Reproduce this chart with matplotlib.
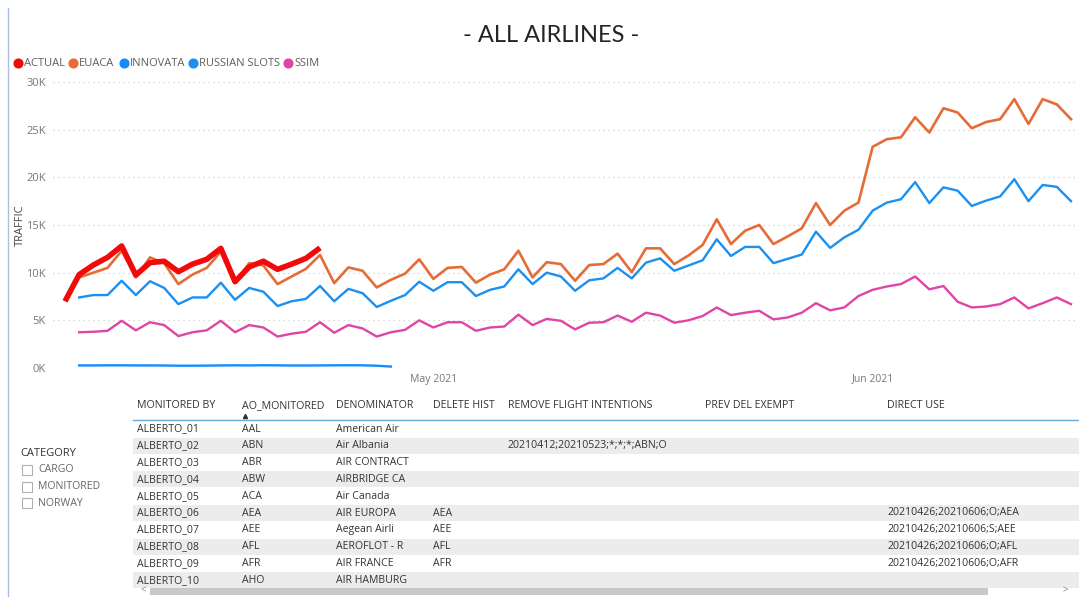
import matplotlib
matplotlib.use('Agg')
import matplotlib.pyplot as plt
import matplotlib.dates as mdates
from matplotlib.lines import Line2D
from matplotlib.patches import Rectangle
import pandas as pd

plt.rcParams['font.family'] = ['Open Sans', 'DejaVu Sans']

# ---- data (values in thousands) ----
dates = pd.date_range('2021-04-05', '2021-06-15', freq='D')

actual = [7.0, 9.8, 10.8, 11.6, 12.8, 9.75, 11.05, 11.2, 10.1, 10.9, 11.4, 12.55,
          9.05, 10.6, 11.2, 10.35, 10.9, 11.5, 12.6]

euaca = [9.5, 10.0, 10.5, 12.3, 9.5, 11.6, 11.0, 8.8, 9.8, 10.5, 12.2, 9.0,
         11.0, 10.75, 8.8, 9.6, 10.4, 11.85, 8.9, 10.55, 10.2, 8.45, 9.25, 9.9,
         11.4, 9.35, 10.5, 10.6, 8.95, 9.8, 10.35, 12.3, 9.5, 11.1, 10.9, 9.15,
         10.8, 10.9, 12.0, 10.05, 12.55, 12.55, 10.9, 11.8, 12.9, 15.6, 13.0, 14.4,
         15.0, 13.0, 13.8, 14.65, 17.3, 15.0, 16.5, 17.35, 23.2, 24.0, 24.2, 26.3,
         24.7, 27.25, 26.8, 25.15, 25.8, 26.1, 28.2, 25.6, 28.2, 27.65, 26.1]

innovata = [0.27, 0.27, 0.28, 0.28, 0.27, 0.27, 0.26, 0.24, 0.24, 0.25, 0.27, 0.28,
            0.27, 0.29, 0.28, 0.26, 0.26, 0.27, 0.28, 0.29, 0.28, 0.24, 0.15]

russian_slots = [7.4, 7.65, 7.65, 9.15, 7.65, 9.1, 8.4, 6.7, 7.4, 7.4, 8.95, 7.15,
                 8.4, 8.0, 6.5, 7.0, 7.25, 8.6, 7.0, 8.3, 7.85, 6.4, 7.05, 7.65,
                 9.05, 8.1, 9.0, 9.0, 7.55, 8.2, 8.55, 10.35, 8.8, 10.0, 9.6, 8.1,
                 9.2, 9.4, 10.5, 9.4, 11.05, 11.5, 10.2, 10.75, 11.3, 13.5, 11.75, 12.7,
                 12.7, 11.0, 11.45, 11.9, 14.3, 12.6, 13.7, 14.5, 16.5, 17.35, 17.7, 19.5,
                 17.3, 18.95, 18.6, 17.0, 17.55, 18.0, 19.8, 17.5, 19.2, 19.0, 17.5]

ssim = [3.75, 3.8, 3.9, 4.95, 3.95, 4.8, 4.5, 3.35, 3.75, 3.95, 4.95, 3.75,
        4.5, 4.25, 3.3, 3.6, 3.8, 4.8, 3.7, 4.5, 4.15, 3.3, 3.75, 4.0,
        5.0, 4.25, 4.8, 4.8, 3.9, 4.25, 4.35, 5.6, 4.5, 5.15, 4.95, 4.05,
        4.75, 4.8, 5.5, 4.85, 5.8, 5.5, 4.75, 5.0, 5.45, 6.35, 5.55, 5.8,
        6.0, 5.1, 5.3, 5.8, 6.8, 6.05, 6.35, 7.55, 8.2, 8.55, 8.8, 9.6,
        8.25, 8.6, 6.95, 6.35, 6.45, 6.7, 7.4, 6.25, 6.8, 7.4, 6.7]

series_names = ['ACTUAL', 'EUACA', 'INNOVATA', 'RUSSIAN SLOTS', 'SSIM']
series_colors = ['#f20a0a', '#e66c37', '#118dff', '#1a90f0', '#e044a7']

# table content
columns = ['MONITORED BY', 'AO_MONITORED', 'DENOMINATOR', 'DELETE HIST',
           'REMOVE FLIGHT INTENTIONS', 'PREV DEL EXEMPT', 'DIRECT USE']
monitored_by = ['ALBERTO_%02d' % i for i in range(1, 11)]
ao_monitored = ['AAL', 'ABN', 'ABR', 'ABW', 'ACA', 'AEA', 'AEE', 'AFL', 'AFR', 'AHO']
denominator = ['American Air', 'Air Albania', 'AIR CONTRACT', 'AIRBRIDGE CA', 'Air Canada',
               'AIR EUROPA', 'Aegean Airli', 'AEROFLOT - R', 'AIR FRANCE', 'AIR HAMBURG']
delete_hist = ['', '', '', '', '', 'AEA', 'AEE', 'AFL', 'AFR', '']
remove_flight = ['', '20210412;20210523;*;*;*;ABN;O', '', '', '', '', '', '', '', '']
prev_del = [''] * 10
direct_use = ['', '', '', '', '', '20210426;20210606;O;AEA', '20210426;20210606;S;AEE',
              '20210426;20210606;O;AFL', '20210426;20210606;O;AFR', '']
categories = ['CARGO', 'MONITORED', 'NORWAY']

# ---- figure ----
W, H = 1079, 597
fig = plt.figure(figsize=(W / 100, H / 100), dpi=100)
fig.patch.set_facecolor('white')


def fx(x):
    return x / W


def fy(y):
    return 1 - y / H


# page border on the left
fig.add_artist(Line2D([fx(8), fx(8)], [fy(8), fy(597)], color='#a9c1e0', lw=1))

fig.text(fx(551), fy(35), '- ALL AIRLINES -', ha='center', va='center',
         fontsize=17, color='#252423', family=['Lato', 'DejaVu Sans'])

# chart
ax = fig.add_axes([fx(53), fy(368), (1077 - 53) / W, (368 - 82) / H])
px_day = 14.17
d0 = mdates.date2num(dates[0])
d1 = mdates.date2num(dates[-1])
ax.set_xlim(d0 - 12 / px_day, d1 + 6 / px_day)
ax.set_ylim(0, 30000)

k = 1000
ax.plot(dates[1:], [v * k for v in euaca], color=series_colors[1], lw=1.9, clip_on=False, zorder=3)
ax.plot(dates[1:24], [v * k for v in innovata], color=series_colors[2], lw=1.7, clip_on=False, zorder=3)
ax.plot(dates[1:], [v * k for v in russian_slots], color=series_colors[3], lw=1.7, clip_on=False, zorder=3)
ax.plot(dates[1:], [v * k for v in ssim], color=series_colors[4], lw=1.7, clip_on=False, zorder=3)
ax.plot(dates[:len(actual)], [v * k for v in actual], color=series_colors[0], lw=4.0,
        clip_on=False, zorder=4, solid_capstyle='butt')

ax.set_yticks(range(0, 30001, 5000))
ax.set_yticklabels(['%dK' % (v // 1000) for v in range(0, 30001, 5000)])
ax.set_xticks([mdates.date2num(pd.Timestamp('2021-05-01')), mdates.date2num(pd.Timestamp('2021-06-01'))])
ax.set_xticklabels(['May 2021', 'Jun 2021'])
ax.tick_params(length=0, colors='#777777', labelsize=7.5)
ax.tick_params(axis='y', pad=5, labelsize=8)
ax.tick_params(axis='x', pad=4)
ax.grid(axis='y', linestyle=(0, (1, 3)), color='#cfcfcf', lw=0.9)
ax.set_axisbelow(True)
for s in ax.spines.values():
    s.set_visible(False)

fig.text(fx(20), fy(225), 'TRAFFIC', rotation=90, ha='center', va='center',
         fontsize=8, color='#444444')

# legend
leg_x = [18, 73, 124, 193, 288]
for name, col, x in zip(series_names, series_colors, leg_x):
    fig.add_artist(Line2D([fx(x)], [fy(63)], marker='o', markersize=6.3, color=col, lw=0))
    fig.text(fx(x + 6), fy(63), name, ha='left', va='center', fontsize=8, color='#605e5c')

# table
col_x = [137, 242, 336, 433, 508, 705, 887]
for c, x in zip(columns, col_x):
    fig.text(fx(x), fy(406), c, ha='left', va='center', fontsize=7.7, color='#333333')
fig.add_artist(Line2D([fx(245)], [fy(416)], marker='^', markersize=3, color='#333333', lw=0))
fig.add_artist(Line2D([fx(133), fx(1079)], [fy(420), fy(420)], color='#6aaad8', lw=1))

row_h = 16.8
table_cols = [monitored_by, ao_monitored, denominator, delete_hist, remove_flight, prev_del, direct_use]
for i in range(10):
    yc = 429 + row_h * i
    if i % 2 == 1:
        fig.add_artist(Rectangle((fx(133), fy(yc + 8)), (1079 - 133) / W, 16 / H,
                                 transform=fig.transFigure, color='#ececec', lw=0, zorder=0))
    for col, x in zip(table_cols, col_x):
        if col[i]:
            fig.text(fx(x), fy(yc), col[i], ha='left', va='center', fontsize=7.6, color='#333333')

# scrollbar
fig.add_artist(Rectangle((fx(150), fy(595)), (988 - 150) / W, 7 / H,
                         transform=fig.transFigure, color='#c8c8c8', lw=0))
fig.text(fx(143), fy(591), '<', ha='center', va='center', fontsize=7, color='#888888')
fig.text(fx(1065), fy(591), '>', ha='center', va='center', fontsize=7, color='#888888')

# slicer
fig.text(fx(20), fy(453), 'CATEGORY', ha='left', va='center', fontsize=8, color='#333333')
for j, cat in enumerate(categories):
    yc = 470 + 16.5 * j
    fig.add_artist(Rectangle((fx(22), fy(yc + 5)), 10 / W, 10 / H, transform=fig.transFigure,
                             fill=False, edgecolor='#b0b0b0', lw=0.8))
    fig.text(fx(38), fy(yc), cat, ha='left', va='center', fontsize=7.6, color='#666666')

fig.savefig('out.png', dpi=100)
